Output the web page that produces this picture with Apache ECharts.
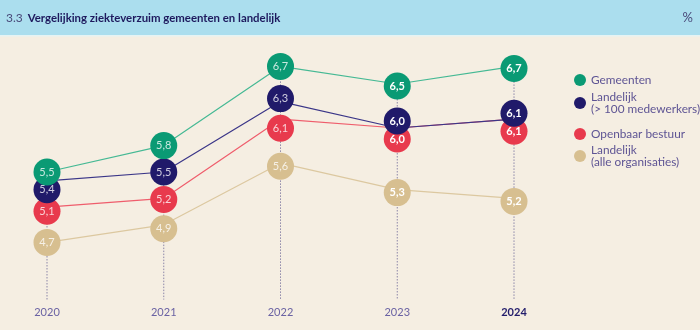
<!DOCTYPE html>
<html><head><meta charset="utf-8">
<script src="https://cdn.jsdelivr.net/npm/echarts@6/dist/echarts.min.js"></script>
<style>html,body{margin:0;padding:0;background:#f5eee2;}#c{width:700px;height:330px;}</style>
</head><body><div id="c"></div>
<script>
const years = ['2020', '2021', '2022', '2023', '2024'];
const gemeenten = [5.5, 5.8, 6.7, 6.5, 6.7];
const landelijk100 = [5.4, 5.5, 6.3, 6.0, 6.1];
const openbaarBestuur = [5.1, 5.2, 6.1, 6.0, 6.1];
const landelijkAlle = [4.7, 4.9, 5.6, 5.3, 5.2];
const seriesNames = ['Gemeenten', 'Landelijk (> 100 medewerkers)', 'Openbaar bestuur', 'Landelijk (alle organisaties)'];
const titleNumber = '3.3';
const titleText = 'Vergelijking ziekteverzuim gemeenten en landelijk';
const unitText = '%';

// styling (vertical nudges of markers to avoid overlap, in px)
const markerNudge = [
  [0, 0, 0, 2, 2],
  [9, 0, -3, -7, -6],
  [4, 1, 9, 11, 12],
  [0, 4, 3, 3, 3]
];
const fillColors = ['#0a9a74', '#201a6a', '#e83a4d', '#d7bf90'];
const lineColors = ['#45b994', '#3b3688', '#ef5d6c', '#dcc8a0'];
const FONT = 'Lato';
const allSeries = [gemeenten, landelijk100, openbaarBestuur, landelijkAlle];
const tops = years.map((y, i) => Math.max(...allSeries.map(s => s[i])));
const fmt = v => String(v.toFixed(1)).replace('.', ',');

const chart = echarts.init(document.getElementById('c'));

function mkSeries(idx) {
  const data = allSeries[idx].map((v, i) => {
    const recent = i >= 3;
    return {
      value: v,
      symbolOffset: [0, markerNudge[idx][i]],
      label: {
        color: recent ? '#ffffff' : 'rgba(255,255,255,0.78)',
        fontWeight: recent ? 'bold' : 'normal'
      }
    };
  });
  return {
    name: seriesNames[idx],
    type: 'line',
    data: data,
    symbol: 'circle',
    symbolSize: 27,
    z: 10 - idx,
    itemStyle: { color: fillColors[idx], opacity: 1 },
    lineStyle: { color: lineColors[idx], width: 1.2 },
    label: {
      show: true, position: 'inside', fontFamily: FONT, fontSize: 11,
      formatter: p => fmt(p.value)
    },
    emphasis: { disabled: true },
    animation: false
  };
}

const legendBase = {
  orient: 'vertical', left: 569, itemWidth: 12, itemHeight: 12,
  icon: 'circle', selectedMode: false,
  textStyle: { color: '#5e5494', fontFamily: FONT, fontSize: 11.8, lineHeight: 12 }
};
const legendLabels = {
  'Gemeenten': 'Gemeenten',
  'Landelijk (> 100 medewerkers)': 'Landelijk\n(> 100 medewerkers)',
  'Openbaar bestuur': 'Openbaar bestuur',
  'Landelijk (alle organisaties)': 'Landelijk\n(alle organisaties)'
};
const legendTops = [69, 80, 123, 133];
const legends = seriesNames.map((n, i) => {
  const multi = legendLabels[n].indexOf('\n') >= 0;
  return Object.assign({}, legendBase, {
    top: legendTops[i],
    data: [n],
    formatter: name => legendLabels[name],
    textStyle: Object.assign({}, legendBase.textStyle, multi ? { padding: [12, 0, 0, 0] } : {})
  });
});

chart.setOption({
  backgroundColor: '#f5eee2',
  animation: false,
  graphic: [
    { type: 'rect', shape: { x: 0, y: 0, width: 700, height: 35 }, style: { fill: '#abdeee' }, z: -10 },
    { type: 'rect', shape: { x: 0, y: 35, width: 700, height: 1.5 }, style: { fill: '#e6f3f3' }, z: -10 }
  ],
  title: [
    {
      text: '{n|' + titleNumber + '} {t|' + titleText + '}',
      left: 1, top: 4,
      textStyle: {
        rich: {
          n: { fontFamily: FONT, fontSize: 12, color: '#4a4a7a', fontWeight: 'normal' },
          t: { fontFamily: FONT, fontSize: 11.4, color: '#1e1a5e', fontWeight: 'bold' }
        }
      }
    },
    {
      text: unitText, right: 2, top: 6,
      textStyle: { fontFamily: FONT, fontSize: 13, color: '#4a4a7a', fontWeight: 'normal' }
    }
  ],
  legend: legends,
  grid: { left: 47, right: 186, top: 40, bottom: 26 },
  xAxis: {
    type: 'category', data: years, boundaryGap: false,
    axisLine: { show: false }, axisTick: { show: false }, splitLine: { show: false },
    axisLabel: {
      margin: 3, fontFamily: FONT, fontSize: 11, color: '#6a62a3',
      formatter: (v, i) => i === years.length - 1 ? '{b|' + v + '}' : v,
      rich: { b: { fontFamily: FONT, fontSize: 11, color: '#221c6b', fontWeight: 'bold' } }
    }
  },
  yAxis: {
    type: 'value', min: 4, max: 7, show: false, splitLine: { show: false }
  },
  series: [
    {
      type: 'custom', silent: true, z: 1,
      data: tops.map((v, i) => [i, v]),
      renderItem: (params, api) => {
        const p1 = api.coord([api.value(0), api.value(1)]);
        const p2 = api.coord([api.value(0), 4.05]);
        return {
          type: 'line',
          shape: { x1: p1[0], y1: p1[1], x2: p2[0], y2: p2[1] },
          style: { stroke: '#8c86a8', lineWidth: 1, lineDash: [1.5, 1.5] }
        };
      }
    },
    mkSeries(0), mkSeries(1), mkSeries(2), mkSeries(3)
  ]
});
</script></body></html>
